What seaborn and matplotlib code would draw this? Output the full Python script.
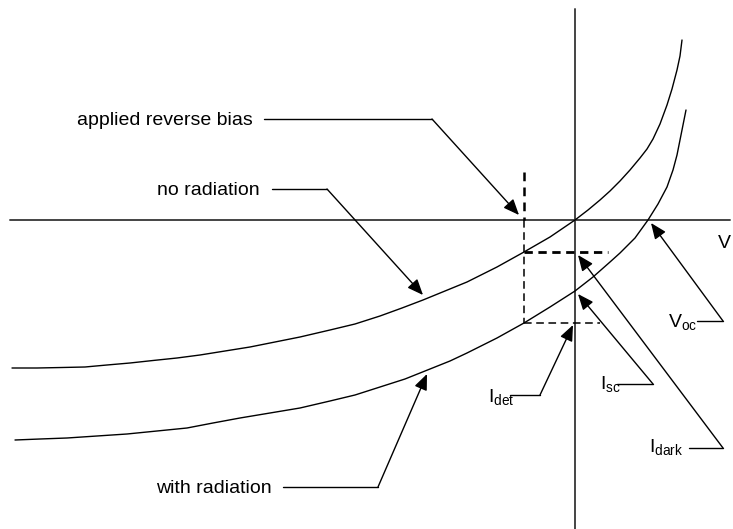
"""
Curva I-V de um fotodiodo: sem radiação / com radiação
- eixos cruzando na origem, linhas tracejadas de polarização reversa
- rótulos com setas de chamada
"""

import pandas as pd
import matplotlib.pyplot as plt
import seaborn as sns

# ------------------------
# DADOS (unidades arbitrárias)
# ------------------------
V_DARK = [-5.63, -5.38, -5.13, -4.90, -4.68, -4.45, -4.22, -3.98, -3.75, -3.50,
          -3.25, -3.00, -2.75, -2.45, -2.20, -1.95, -1.73, -1.52, -1.30, -1.08,
          -0.78, -0.51, -0.25, 0.0, 0.13, 0.25, 0.35, 0.45, 0.55, 0.65,
          0.72, 0.78, 0.85, 0.92, 0.97, 1.02, 1.05, 1.07]
I_DARK = [-1.48, -1.48, -1.475, -1.47, -1.45, -1.43, -1.405, -1.38, -1.35, -1.31,
          -1.27, -1.22, -1.17, -1.10, -1.04, -0.96, -0.88, -0.80, -0.71, -0.62,
          -0.47, -0.32, -0.17, 0.0, 0.10, 0.20, 0.29, 0.39, 0.50, 0.62,
          0.71, 0.81, 0.96, 1.15, 1.31, 1.50, 1.64, 1.80]

V_LIGHT = [-5.60, -5.35, -5.08, -4.78, -4.48, -4.18, -3.88, -3.62, -3.35, -3.05,
           -2.75, -2.45, -2.20, -1.95, -1.70, -1.45, -1.25, -1.08, -0.78, -0.51,
           -0.25, 0.0, 0.18, 0.35, 0.45, 0.60, 0.73, 0.83, 0.92, 0.98,
           1.02, 1.07, 1.11]
I_LIGHT = [-2.20, -2.19, -2.18, -2.16, -2.14, -2.11, -2.08, -2.03, -1.98, -1.93,
           -1.88, -1.81, -1.75, -1.67, -1.59, -1.49, -1.41, -1.33, -1.18, -1.03,
           -0.87, -0.71, -0.57, -0.42, -0.33, -0.18, 0.0, 0.16, 0.33, 0.50,
           0.65, 0.90, 1.10]

V_BIAS = -0.51       # tensão reversa aplicada
I_DARK_BIAS = -0.32  # corrente no escuro na polarização
I_DET_BIAS = -1.03   # corrente com radiação na polarização
V_OC = 0.73

df = pd.concat([
    pd.DataFrame({"V": V_DARK, "I": I_DARK, "curva": "no radiation"}),
    pd.DataFrame({"V": V_LIGHT, "I": I_LIGHT, "curva": "with radiation"}),
])

# ------------------------
# FIGURA
# ------------------------
sns.set_style("white")
plt.rcParams["font.family"] = ["Liberation Sans", "DejaVu Sans"]
plt.rcParams["mathtext.fontset"] = "custom"
plt.rcParams["mathtext.rm"] = "Liberation Sans"
plt.rcParams["text.color"] = "black"

fig = plt.figure(figsize=(7.33, 5.29), dpi=100)
ax = fig.add_axes([0, 0, 1, 1])
ax.set_xlim(-5.75, 1.58)
ax.set_ylim(-3.09, 2.20)
ax.axis("off")

# Eixos V e I
ax.plot([-5.65, 1.55], [0, 0], color="#444444", lw=1.4)
ax.plot([0, 0], [-3.09, 2.11], color="#444444", lw=1.4)

# Curvas
for nome, g in df.groupby("curva"):
    sns.lineplot(data=g, x="V", y="I", sort=False, estimator=None,
                 color="black", lw=1.0, ax=ax, legend=False)

# Linhas tracejadas
ax.plot([V_BIAS, V_BIAS], [0.48, 0], color="black", lw=1.8, ls=(0, (3.5, 2.5)))
ax.plot([V_BIAS, V_BIAS], [0, I_DET_BIAS], color="black", lw=1.1, ls=(0, (5, 3)))
ax.plot([V_BIAS, 0.33], [I_DARK_BIAS, I_DARK_BIAS], color="black", lw=2.0, ls=(0, (3, 2)))
ax.plot([V_BIAS, 0.25], [I_DET_BIAS, I_DET_BIAS], color="black", lw=1.1, ls=(0, (5, 3)))

# Rótulos com setas de chamada
FS = 14
ARROW = dict(arrowstyle="-|>,head_length=0.6,head_width=0.25", color="black",
             lw=1.0, shrinkA=0, shrinkB=0, mutation_scale=16)


def chamada(texto, pos_txt, ha, p0, canto, ponta):
    ax.text(*pos_txt, texto, ha=ha, va="baseline", fontsize=FS)
    ax.plot([p0[0], canto[0]], [p0[1], canto[1]], color="black", lw=1.0)
    ax.annotate("", xy=ponta, xytext=canto, arrowprops=ARROW)


chamada("applied reverse bias", (-3.22, 0.95), "right",
        (-3.11, 1.01), (-1.43, 1.01), (-0.56, 0.05))
chamada("no radiation", (-3.15, 0.25), "right",
        (-3.03, 0.31), (-2.48, 0.31), (-1.52, -0.75))
chamada("with radiation", (-3.03, -2.73), "right",
        (-2.92, -2.67), (-1.97, -2.67), (-1.48, -1.54))
chamada(r"I$_{\mathrm{det}}$", (-0.87, -1.83), "left",
        (-0.65, -1.75), (-0.35, -1.75), (-0.02, -1.05))
chamada(r"I$_{\mathrm{sc}}$", (0.25, -1.70), "left",
        (0.42, -1.64), (0.78, -1.64), (0.03, -0.74))
chamada(r"I$_{\mathrm{dark}}$", (0.74, -2.33), "left",
        (1.14, -2.28), (1.48, -2.28), (0.03, -0.35))
chamada(r"V$_{\mathrm{oc}}$", (0.93, -1.08), "left",
        (1.22, -1.01), (1.48, -1.01), (V_OC + 0.03, -0.03))

ax.text(1.43, -0.28, "V", ha="left", va="baseline", fontsize=FS)

fig.savefig("out.png", dpi=100, facecolor="white")
